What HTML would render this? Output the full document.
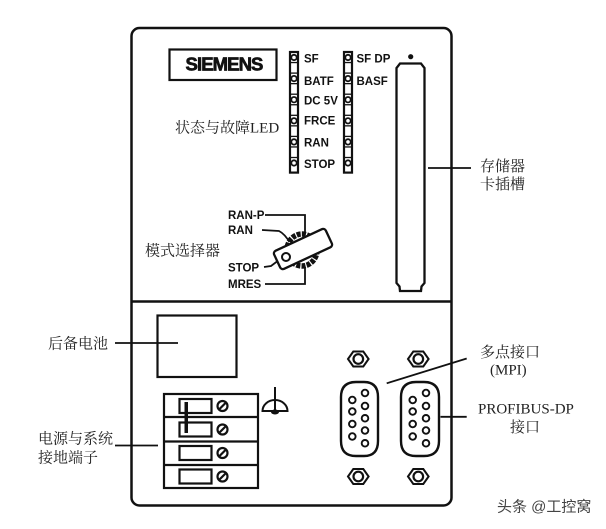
<!DOCTYPE html>
<html><head><meta charset="utf-8"><style>
html,body{margin:0;padding:0;background:#fff;}
svg{display:block;}
.cj{font-family:"Liberation Serif","Noto Serif CJK SC",serif;font-size:15px;fill:#222;}
.b{font-family:"Liberation Sans",Arial,sans-serif;font-weight:bold;font-size:11.5px;fill:#111;}
</style></head><body>
<svg width="606" height="529" viewBox="0 0 606 529" xmlns="http://www.w3.org/2000/svg">
<rect width="606" height="529" fill="#fff"/>
<g fill="none" stroke="#111" stroke-width="2.5">
<rect x="131.5" y="28" width="320" height="477.5" rx="8"/>
<line x1="131.5" y1="301.5" x2="451.5" y2="301.5"/>
</g>
<!-- SIEMENS -->
<rect x="169.5" y="49.5" width="107" height="30.5" fill="none" stroke="#111" stroke-width="2.2"/>
<text x="224" y="70.5" text-anchor="middle" font-family="Liberation Sans,Arial,sans-serif" font-weight="bold" font-size="18.5" letter-spacing="-0.9" fill="#111" stroke="#111" stroke-width="0.7">SIEMENS</text>
<!-- LED strips -->
<g stroke="#111" fill="#fff">
<rect x="290" y="52" width="8" height="120.6" stroke-width="2.2"/>
<rect x="344" y="52" width="8" height="120.6" stroke-width="2.2"/>
</g>
<g stroke="#111" stroke-width="1.3">
<line x1="290" y1="62.55" x2="298" y2="62.55"/><line x1="290" y1="73.1" x2="298" y2="73.1"/>
<line x1="290" y1="83.65" x2="298" y2="83.65"/><line x1="290" y1="94.2" x2="298" y2="94.2"/>
<line x1="290" y1="104.75" x2="298" y2="104.75"/><line x1="290" y1="115.3" x2="298" y2="115.3"/>
<line x1="290" y1="125.85" x2="298" y2="125.85"/><line x1="290" y1="136.4" x2="298" y2="136.4"/>
<line x1="290" y1="146.95" x2="298" y2="146.95"/><line x1="290" y1="157.5" x2="298" y2="157.5"/>
<line x1="344" y1="62.55" x2="352" y2="62.55"/><line x1="344" y1="73.1" x2="352" y2="73.1"/>
<line x1="344" y1="83.65" x2="352" y2="83.65"/><line x1="344" y1="94.2" x2="352" y2="94.2"/>
<line x1="344" y1="104.75" x2="352" y2="104.75"/><line x1="344" y1="115.3" x2="352" y2="115.3"/>
<line x1="344" y1="125.85" x2="352" y2="125.85"/><line x1="344" y1="136.4" x2="352" y2="136.4"/>
<line x1="344" y1="146.95" x2="352" y2="146.95"/><line x1="344" y1="157.5" x2="352" y2="157.5"/>
</g>
<g stroke="#111" stroke-width="1.8" fill="#fff">
<circle cx="294" cy="57.5" r="2.7"/><circle cx="294" cy="78.6" r="2.7"/><circle cx="294" cy="99.7" r="2.7"/>
<circle cx="294" cy="120.8" r="2.7"/><circle cx="294" cy="141.9" r="2.7"/><circle cx="294" cy="163" r="2.7"/>
<circle cx="348" cy="57.5" r="2.7"/><circle cx="348" cy="78.6" r="2.7"/><circle cx="348" cy="99.7" r="2.7"/>
<circle cx="348" cy="120.8" r="2.7"/><circle cx="348" cy="141.9" r="2.7"/><circle cx="348" cy="163" r="2.7"/>
</g>
<g class="b">
<text x="304" y="62.5">SF</text>
<text x="304" y="85">BATF</text>
<text x="304" y="104.7">DC 5V</text>
<text x="304" y="124.7">FRCE</text>
<text x="304" y="146.7">RAN</text>
<text x="304" y="168">STOP</text>
<text x="356.5" y="62.5">SF DP</text>
<text x="356.5" y="85">BASF</text>
</g>
<text class="cj" x="175" y="132.5">状态与故障LED</text>
<!-- memory slot -->
<circle cx="410.7" cy="56.7" r="2.6" fill="#111"/>
<path d="M400,63.5 L421,63.5 L424.5,68 L424.5,283 L421.5,286.5 L421,291 L400,291 L399.5,286.5 L396.5,283 L396.5,68 Z" fill="none" stroke="#111" stroke-width="2.3"/>
<line x1="428" y1="168" x2="471" y2="168" stroke="#111" stroke-width="1.8"/>
<text class="cj" x="480" y="171">存储器</text>
<text class="cj" x="480" y="189">卡插槽</text>
<!-- key switch -->
<g class="b">
<text x="228" y="219">RAN-P</text>
<text x="228" y="234">RAN</text>
<text x="228" y="271.5">STOP</text>
<text x="228" y="288">MRES</text>
</g>
<g fill="none" stroke="#111" stroke-width="1.8">
<polyline points="265,215 305,215 305,238"/>
<polyline points="265,284 305,284 305,267"/>
<path d="M262,230 L279,231 Q285,234 290,243"/>
<path d="M264,267 L271,266 L279,260"/>
</g>
<ellipse cx="302" cy="250" rx="15" ry="16" fill="#fff" stroke="#111" stroke-width="5.5" stroke-dasharray="4 1.2"/>
<g transform="translate(303,249) rotate(-25)">
<rect x="-28.5" y="-10" width="57" height="20" rx="3" fill="#fff" stroke="#111" stroke-width="2.3"/>
</g>
<circle cx="286" cy="257" r="4" fill="#fff" stroke="#111" stroke-width="2"/>
<text class="cj" x="145" y="255.5">模式选择器</text>
<!-- battery -->
<rect x="157.5" y="315.5" width="79" height="61.5" fill="none" stroke="#111" stroke-width="2.2"/>
<line x1="115" y1="343" x2="178" y2="343" stroke="#111" stroke-width="1.8"/>
<text class="cj" x="48" y="348.5">后备电池</text>
<!-- terminal block -->
<g fill="none" stroke="#111" stroke-width="2.2">
<rect x="164" y="394" width="94" height="94"/>
<line x1="164" y1="417" x2="258" y2="417"/>
<line x1="164" y1="441.5" x2="258" y2="441.5"/>
<line x1="164" y1="465" x2="258" y2="465"/>
<rect x="179.5" y="399" width="32" height="14"/>
<rect x="179.5" y="422.5" width="32" height="14"/>
<rect x="179.5" y="446" width="32" height="14"/>
<rect x="179.5" y="469.5" width="32" height="14"/>
<circle cx="222.5" cy="406" r="5"/>
<circle cx="222.5" cy="429.5" r="5"/>
<circle cx="222.5" cy="453" r="5"/>
<circle cx="222.5" cy="476.5" r="5"/>
<line x1="219" y1="409.5" x2="226" y2="402.5"/>
<line x1="219" y1="433" x2="226" y2="426"/>
<line x1="219" y1="456.5" x2="226" y2="449.5"/>
<line x1="219" y1="480" x2="226" y2="473"/>
</g>
<rect x="184.5" y="402" width="3.5" height="31" fill="#111"/>
<!-- ground -->
<g fill="none" stroke="#111" stroke-width="2">
<line x1="275" y1="387" x2="275" y2="410"/>
<path d="M262.5,411 A12.5,11 0 0 1 287.5,411 Z"/>
</g>
<ellipse cx="275" cy="412" rx="4" ry="2.5" fill="#111"/>
<line x1="115" y1="445.5" x2="158" y2="445.5" stroke="#111" stroke-width="1.8"/>
<text class="cj" x="38" y="443.5">电源与系统</text>
<text class="cj" x="38" y="462.5">接地端子</text>
<!-- hex nuts -->
<g fill="#fff" stroke="#111" stroke-width="2">
<polygon points="348,359 353.3,351.5 363.3,351.5 368.6,359 363.3,366.5 353.3,366.5"/>
<polygon points="408,359 413.3,351.5 423.3,351.5 428.6,359 423.3,366.5 413.3,366.5"/>
<polygon points="348,476.5 353.3,469 363.3,469 368.6,476.5 363.3,484 353.3,484"/>
<polygon points="408,476.5 413.3,469 423.3,469 428.6,476.5 423.3,484 413.3,484"/>
<circle cx="358.3" cy="359" r="4.8" stroke-width="2.2"/>
<circle cx="418.3" cy="359" r="4.8" stroke-width="2.2"/>
<circle cx="358.3" cy="476.5" r="4.8" stroke-width="2.2"/>
<circle cx="418.3" cy="476.5" r="4.8" stroke-width="2.2"/>
</g>
<!-- DB9 connectors -->
<g fill="none" stroke="#111" stroke-width="2.4">
<path d="M356,382 L364,382 Q378,382 378,397 L378,441 Q378,456 364,456 L356,456 Q341,456 341,441 L341,397 Q341,382 356,382 Z"/>
<path d="M416,382 L424,382 Q439,382 439,397 L439,441 Q439,456 424,456 L416,456 Q401,456 401,441 L401,397 Q401,382 416,382 Z"/>
</g>
<g fill="#fff" stroke="#111" stroke-width="1.9">
<circle cx="352.3" cy="400" r="3.3"/><circle cx="352.3" cy="411.5" r="3.3"/><circle cx="352.3" cy="424" r="3.3"/><circle cx="352.3" cy="436.5" r="3.3"/>
<circle cx="365" cy="393" r="3.3"/><circle cx="365" cy="406" r="3.3"/><circle cx="365" cy="418.3" r="3.3"/><circle cx="365" cy="430.5" r="3.3"/><circle cx="365" cy="443.3" r="3.3"/>
<circle cx="412.7" cy="400" r="3.3"/><circle cx="412.7" cy="411.5" r="3.3"/><circle cx="412.7" cy="424" r="3.3"/><circle cx="412.7" cy="436.5" r="3.3"/>
<circle cx="426" cy="393" r="3.3"/><circle cx="426" cy="406" r="3.3"/><circle cx="426" cy="418.3" r="3.3"/><circle cx="426" cy="430.5" r="3.3"/><circle cx="426" cy="443.3" r="3.3"/>
</g>
<g stroke="#111" stroke-width="1.8">
<line x1="386.7" y1="383.3" x2="466.7" y2="358.5"/>
<line x1="440.5" y1="416.8" x2="466.7" y2="416.8"/>
</g>
<text class="cj" x="480" y="357">多点接口</text>
<text class="cj" x="490" y="374.5">(MPI)</text>
<text class="cj" x="478" y="413.5">PROFIBUS-DP</text>
<text class="cj" x="510" y="432">接口</text>
<!-- watermark -->
<text x="497" y="511.5" font-family="Liberation Sans,'Noto Sans CJK SC',sans-serif" font-size="15" fill="#444">头条 @工控窝</text>
</svg>
</body></html>
